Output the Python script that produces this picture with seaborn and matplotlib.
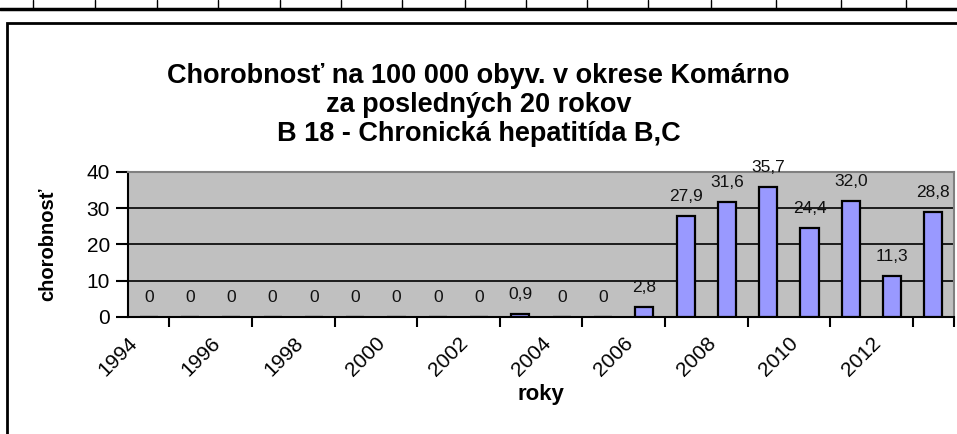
import matplotlib
matplotlib.use('Agg')
import matplotlib.pyplot as plt
import seaborn as sns
import pandas as pd
from matplotlib.lines import Line2D
from matplotlib.patches import Rectangle

# data
roky = [str(r) for r in range(1994, 2014)]
chorobnost = [0, 0, 0, 0, 0, 0, 0, 0, 0, 0.9, 0, 0, 2.8,
              27.9, 31.6, 35.7, 24.4, 32.0, 11.3, 28.8]
popisky = ['0', '0', '0', '0', '0', '0', '0', '0', '0', '0,9', '0', '0', '2,8',
           '27,9', '31,6', '35,7', '24,4', '32,0', '11,3', '28,8']
y_ticks = [0, 10, 20, 30, 40]

sns.set_style('white')
plt.rcParams['font.family'] = ['Liberation Sans', 'DejaVu Sans']
plt.rcParams['text.color'] = 'black'
plt.rcParams['axes.labelcolor'] = 'black'
plt.rcParams['xtick.color'] = 'black'
plt.rcParams['ytick.color'] = 'black'

df = pd.DataFrame({'rok': roky, 'chorobnost': chorobnost})

fig = plt.figure(figsize=(9.57, 4.34), dpi=100)
ax = fig.add_axes([0.1338, 0.2696, 0.8631, 0.3348])
ax.set_facecolor('#C0C0C0')

sns.barplot(data=df, x='rok', y='chorobnost', color='#9999FF', saturation=1,
            width=0.44, edgecolor='black', linewidth=1.6, ax=ax, zorder=3)

ax.set_xlim(-0.5, len(roky) - 0.5)
ax.set_ylim(0, 40)
ax.set_yticks(y_ticks)
ax.set_yticklabels([str(t) for t in y_ticks], fontsize=15)
ax.grid(axis='y', color='black', linewidth=1.2, zorder=1)
ax.set_axisbelow(True)

# popisky rokov pri lavej hranici kategorie (ako v Exceli), ciarky na hraniciach
ax.set_xticks([i - 0.5 for i in range(0, len(roky), 2)])
ax.set_xticklabels(roky[::2], rotation=45, ha='right', va='top', rotation_mode='anchor', fontsize=15)
ax.set_xticks([i - 0.5 for i in range(len(roky) + 1)], minor=True)
ax.tick_params(axis='x', which='major', length=0, pad=12)
ax.tick_params(axis='x', which='minor', length=7, width=1.5, direction='out', color='black', bottom=True)
ax.tick_params(axis='y', length=9, width=1.5, direction='out', color='black', left=True, pad=4)

for s in ['left', 'bottom']:
    ax.spines[s].set_color('black')
    ax.spines[s].set_linewidth(1.5)
for s in ['top', 'right']:
    ax.spines[s].set_color('#808080')
    ax.spines[s].set_linewidth(1.5)

for i, (v, t) in enumerate(zip(chorobnost, popisky)):
    ax.annotate(t, (i, v), xytext=(0, 14), textcoords='offset points',
                ha='center', va='center', fontsize=12.5, color='#111111', zorder=4,
                annotation_clip=False)

ax.set_xlabel('roky', fontsize=16, fontweight='bold', labelpad=3)
ax.set_ylabel('chorobnosť', fontsize=14.5, fontweight='bold', labelpad=21)

fig.text(0.5, 0.758, 'Chorobnosť na 100 000 obyv. v okrese Komárno\nza posledných 20 rokov\nB 18 - Chronická hepatitída B,C',
         ha='center', va='center', fontsize=19.5, fontweight='bold', linespacing=1.13)

# ram grafu a mriezka hárku nad ním
fig.add_artist(Rectangle((7 / 957, -0.1), 1.2, 1 - 23 / 434 + 0.1, transform=fig.transFigure,
                         fill=False, edgecolor='black', linewidth=2))
fig.add_artist(Line2D([0, 1], [1 - 8.5 / 434] * 2, transform=fig.transFigure, color='black', linewidth=2.5))
for x in [33, 95, 157, 218, 280, 341, 402, 465, 526, 587, 648, 711, 776, 841, 906]:
    fig.add_artist(Line2D([x / 957] * 2, [1 - 8.5 / 434, 1], transform=fig.transFigure, color='black', linewidth=1))

fig.savefig('out.png', dpi=100)
